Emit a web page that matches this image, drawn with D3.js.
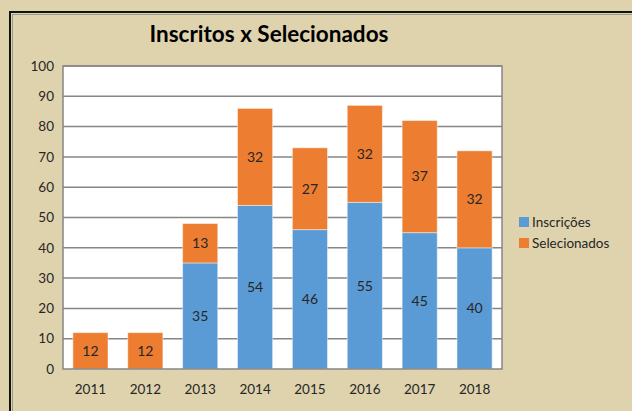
<!DOCTYPE html>
<html>
<head>
<meta charset="utf-8">
<script src="https://cdn.jsdelivr.net/npm/d3@7"></script>
<style>
    body { margin: 0; background: #dfd3ae; }
    svg { display: block; }
    text { font-family: "Lato", "Liberation Sans", sans-serif; fill: #262626; }
</style>
</head>
<body>
<div id="chart"></div>
<script>
// chart data
const years = ["2011", "2012", "2013", "2014", "2015", "2016", "2017", "2018"];
const inscricoes = [0, 0, 35, 54, 46, 55, 45, 40];
const selecionados = [12, 12, 13, 32, 27, 32, 37, 32];
const seriesNames = ["Inscrições", "Selecionados"];
const yTicks = [0, 10, 20, 30, 40, 50, 60, 70, 80, 90, 100];

const width = 632;
const height = 411;
const colors = ["#5b9bd5", "#ed7d31"];

const plot = { left: 63, top: 66, right: 502, bottom: 369 };

const svg = d3.select("#chart").append("svg")
    .attr("width", width)
    .attr("height", height);

// outer frame (runs off the right and bottom edges)
svg.append("rect")
    .attr("x", 10).attr("y", 12)
    .attr("width", 700).attr("height", 500)
    .attr("fill", "#dfd3ae")
    .attr("stroke", "#111")
    .attr("stroke-width", 2);
svg.append("rect")
    .attr("x", 12.5).attr("y", 14.5)
    .attr("width", 700).attr("height", 500)
    .attr("fill", "none")
    .attr("stroke", "#9a9a88")
    .attr("stroke-width", 1);

svg.append("text")
    .attr("x", 269)
    .attr("y", 42)
    .attr("text-anchor", "middle")
    .attr("font-size", 22.5)
    .attr("font-weight", "bold")
    .style("fill", "#000")
    .text("Inscritos x Selecionados");

let xScale = d3.scaleBand()
    .domain(years)
    .range([plot.left, plot.right])
    .paddingInner(0.36)
    .paddingOuter(0.18);

let yScale = d3.scaleLinear()
    .domain([0, 100])
    .range([plot.bottom, plot.top]);

// plot background
svg.append("rect")
    .attr("x", plot.left).attr("y", plot.top)
    .attr("width", plot.right - plot.left)
    .attr("height", plot.bottom - plot.top)
    .attr("fill", "#fff");

// gridlines
svg.append("g")
    .selectAll("line")
    .data(yTicks.filter(d => d > 0))
    .join("line")
    .attr("x1", plot.left).attr("x2", plot.right)
    .attr("y1", d => yScale(d)).attr("y2", d => yScale(d))
    .attr("stroke", "#868686")
    .attr("stroke-width", 1.5);

// stacked data
let rows = years.map((y, i) => ({ year: y, "Inscrições": inscricoes[i], "Selecionados": selecionados[i] }));
let stacked = d3.stack().keys(seriesNames)(rows);

let layers = svg.append("g")
    .selectAll("g")
    .data(stacked)
    .join("g")
    .attr("fill", (d, i) => colors[i]);

layers.selectAll("rect")
    .data(d => d.filter(p => p[1] - p[0] > 0))
    .join("rect")
    .attr("x", d => xScale(d.data.year))
    .attr("y", d => yScale(d[1]))
    .attr("width", xScale.bandwidth())
    .attr("height", d => yScale(d[0]) - yScale(d[1]))
    .attr("stroke", "rgba(255,255,255,0.45)")
    .attr("stroke-width", 1);

layers.selectAll("text")
    .data(d => d.filter(p => p[1] - p[0] > 0))
    .join("text")
    .attr("x", d => xScale(d.data.year) + xScale.bandwidth() / 2)
    .attr("y", d => yScale((d[0] + d[1]) / 2))
    .attr("dy", "0.35em")
    .attr("text-anchor", "middle")
    .attr("font-size", 14)
    .text(d => d[1] - d[0]);

// axes frame
svg.append("rect")
    .attr("x", plot.left).attr("y", plot.top)
    .attr("width", plot.right - plot.left)
    .attr("height", plot.bottom - plot.top)
    .attr("fill", "none")
    .attr("stroke", "#868686")
    .attr("stroke-width", 1.5);

// y axis labels
svg.append("g")
    .selectAll("text")
    .data(yTicks)
    .join("text")
    .attr("x", 54)
    .attr("y", d => yScale(d))
    .attr("dy", "0.35em")
    .attr("text-anchor", "end")
    .attr("font-size", 13.5)
    .text(d => d);

// x axis labels
svg.append("g")
    .selectAll("text")
    .data(years)
    .join("text")
    .attr("x", d => xScale(d) + xScale.bandwidth() / 2)
    .attr("y", 389)
    .attr("dy", "0.35em")
    .attr("text-anchor", "middle")
    .attr("font-size", 13.5)
    .text(d => d);

// legend
let legend = svg.append("g")
    .selectAll("g")
    .data(seriesNames)
    .join("g")
    .attr("transform", (d, i) => `translate(519, ${217 + i * 21})`);

legend.append("rect")
    .attr("width", 10).attr("height", 10)
    .attr("fill", (d, i) => colors[i]);

legend.append("text")
    .attr("x", 13)
    .attr("y", 5)
    .attr("dy", "0.35em")
    .attr("font-size", 13.5)
    .text(d => d);
</script>
</body>
</html>
